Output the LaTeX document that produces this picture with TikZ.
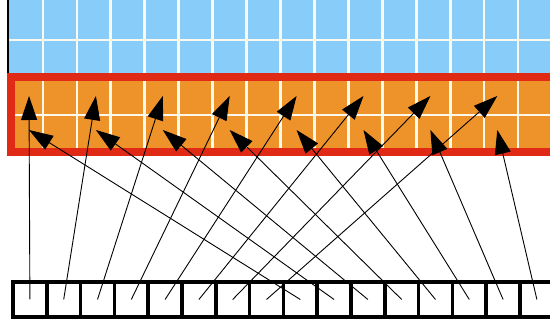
\documentclass[tikz,border=0pt]{standalone}
\usetikzlibrary{arrows.meta}
\definecolor{sky}{RGB}{136,204,250}
\definecolor{amber}{RGB}{238,146,42}
\definecolor{rim}{RGB}{224,42,22}
\definecolor{gridline}{RGB}{252,248,236}

\begin{document}
\begin{tikzpicture}[x=1pt,y=-1pt,>={Triangle[length=24pt,width=16pt]},
  cell/.style={draw,line width=3.5pt,fill=white,minimum width=33.8pt,minimum height=35pt,inner sep=0pt},
  link/.style={->,line width=0.9pt}]
\useasboundingbox (0,0) rectangle (550,320);
\clip (0,0) rectangle (550,320);
% upper block
\fill[sky] (9,0) rectangle (550,73);
\draw[line width=2pt] (8,0) -- (8,73);
\fill[rim] (7,73) rectangle (550,156);
\fill[amber] (15,81) rectangle (550,148);
\foreach \k in {0,...,14}
  \draw[gridline,line width=2.8pt] ({43+33.93*\k},0) -- ({43+33.93*\k},73)
                                   ({43+33.93*\k},81) -- ({43+33.93*\k},148);
\draw[gridline,line width=2.8pt] (9,40) -- (550,40) (15,115) -- (550,115);
% target points
\foreach \j in {1,...,8} {
  \coordinate (u\j) at ({29+66.9*(\j-1)},96);
  \coordinate (l\j) at ({29+66.9*(\j-1)},130);
}
% bottom row
\foreach \i in {1,...,16}
  \node[cell] (b\i) at ({13+33.8*(\i-0.5)},299.5) {};
% connections
\foreach \i in {1,...,8} {
  \draw[link] (b\i.center) -- (u\i);
  \pgfmathtruncatemacro{\k}{\i+8}
  \draw[link] (b\k.center) -- (l\i);
}
\end{tikzpicture}
\end{document}
